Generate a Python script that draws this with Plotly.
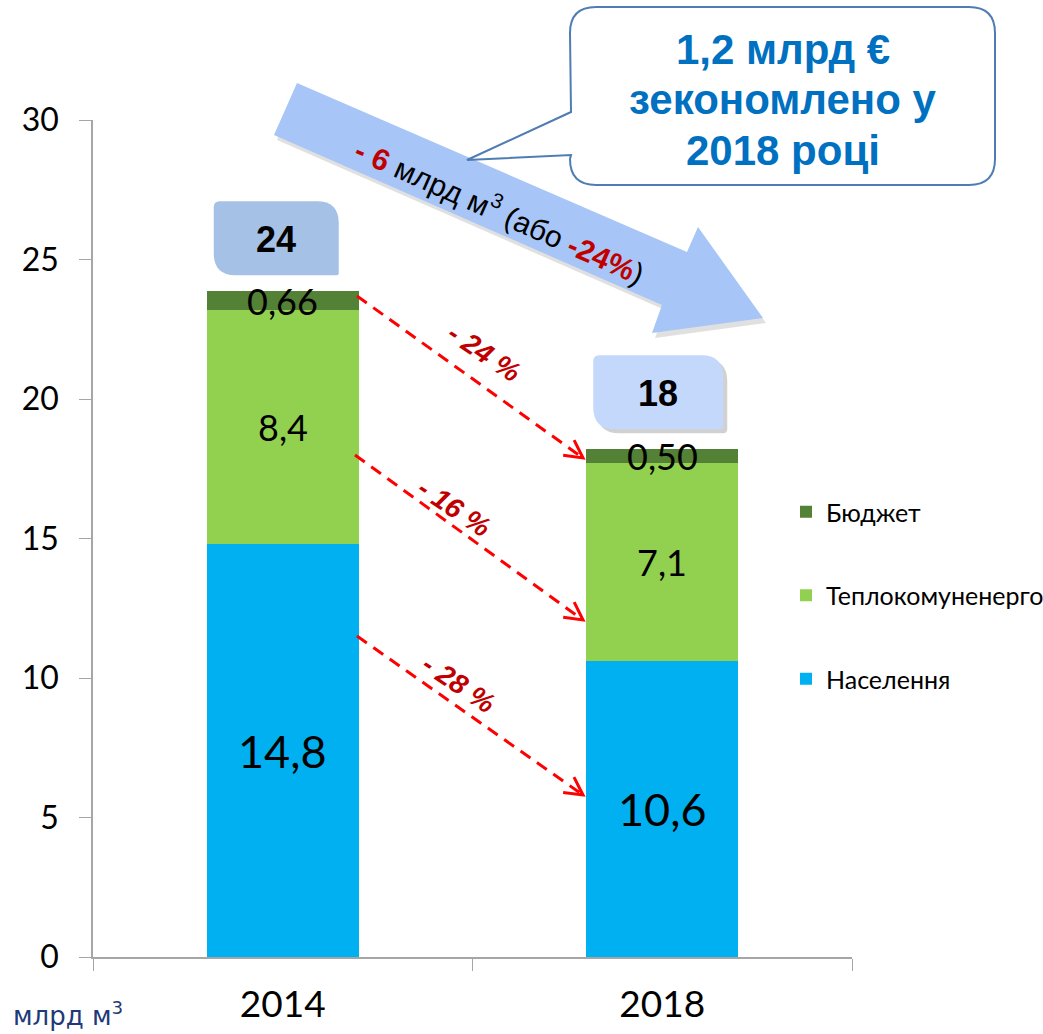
"""
Gas consumption 2014 vs 2018 - stacked bars with callouts.
"""

import math
import plotly.graph_objects as go

YEARS = ["2014", "2018"]
SERIES = ["Населення", "Теплокомуненерго", "Бюджет"]
POPULATION = [14.8, 10.6]
HEAT = [8.4, 7.1]
BUDGET = [0.66, 0.50]
DECIMALS = [1, 1, 2]

COLORS = {
    "Населення": "#00B0F0",
    "Теплокомуненерго": "#92D050",
    "Бюджет": "#538135",
}
LABEL_SIZE = [45, 36, 36]

# figure / plot area in pixels
W, H = 1043, 1034
L, R, T, B = 93, 852, 120, 957
YMAX = 30


def px(x, y):
    """pixel -> paper coords"""
    return (x - L) / (R - L), (B - y) / (B - T)


def y2px(v):
    return B - v * (B - T) / YMAX


def cx(i):
    return L + (i + 0.5) * (R - L) / len(YEARS)


def path(points, close=True):
    s = ""
    for cmd, pts in points:
        s += cmd + " ".join(f"{px(*p)[0]:.5f},{px(*p)[1]:.5f}" for p in pts) + " "
    return s + ("Z" if close else "")


def rrect(x0, y0, x1, y1, rtl, rtr, rbr, rbl):
    return path([
        ("M", [(x0 + rtl, y0)]), ("L", [(x1 - rtr, y0)]),
        ("Q", [(x1, y0), (x1, y0 + rtr)]), ("L", [(x1, y1 - rbr)]),
        ("Q", [(x1, y1), (x1 - rbr, y1)]), ("L", [(x0 + rbl, y1)]),
        ("Q", [(x0, y1), (x0, y1 - rbl)]), ("L", [(x0, y0 + rtl)]),
        ("Q", [(x0, y0), (x0 + rtl, y0)]),
    ])


def fmt(v, d):
    return f"{v:.{d}f}".replace(".", ",")


def note(x, y, text, size, color, family, angle=0):
    ax, ay = px(x, y)
    return dict(x=ax, y=ay, xref="paper", yref="paper", text=text, showarrow=False,
                xanchor="center", yanchor="middle", textangle=angle,
                font=dict(size=size, color=color, family=family))


fig = go.Figure()
values = [POPULATION, HEAT, BUDGET]
for rank, (name, vals) in enumerate(zip(SERIES, values)):
    fig.add_trace(go.Bar(
        x=YEARS, y=vals, name=name, legendgroup=name, legendrank=10 - rank,
        marker=dict(color=COLORS[name], line=dict(width=0)),
        width=0.4, hoverinfo="skip",
    ))

shapes = []
annotations = []

# segment labels
for i in range(len(YEARS)):
    base = 0
    for k, vals in enumerate(values):
        annotations.append(dict(
            x=i, y=base + vals[i] / 2, xref="x", yref="y",
            xanchor="center", yanchor="middle",
            text=fmt(vals[i], DECIMALS[k]), showarrow=False,
            font=dict(size=LABEL_SIZE[k], color="black", family="Lato"),
        ))
        base += vals[i]

# total boxes
box_fill = ["#A6C1E6", "#C4D8FB"]
for i in range(len(YEARS)):
    total = sum(v[i] for v in values)
    yb = y2px(total) - 16 - 4 * i
    x0, x1 = cx(i) - 69, cx(i) + 56 + 5 * i
    if i == 1:
        shapes.append(dict(type="path", xref="paper", yref="paper",
                           path=rrect(x0 + 4, yb - 70, x1 + 4, yb + 4, 6, 22, 4, 22),
                           fillcolor="rgba(0,0,0,0.18)", line=dict(width=0)))
    shapes.append(dict(type="path", xref="paper", yref="paper",
                       path=rrect(x0, yb - 74, x1, yb, 6, 22, 2, 22),
                       fillcolor=box_fill[i], line=dict(width=0)))
    annotations.append(note((x0 + x1) / 2, yb - 36, f"<b>{round(total)}</b>",
                            36, "black", "Liberation Sans"))

# dashed red arrows between bars
arrows = [((357, 296), (583, 458)), ((355, 455), (583, 620)), ((357, 636), (583, 795))]
for (xa, ya), (xb, yb) in arrows:
    p0, p1 = px(xa, ya), px(xb, yb)
    shapes.append(dict(type="line", xref="paper", yref="paper",
                       x0=p0[0], y0=p0[1], x1=p1[0], y1=p1[1],
                       line=dict(color="#FF0000", width=3, dash="12px,8px")))
    dx, dy = xb - xa, yb - ya
    n = math.hypot(dx, dy)
    ux, uy = dx / n, dy / n
    arm = 20
    c, s = math.cos(math.radians(28)), math.sin(math.radians(28))
    h1 = (xb - arm * (ux * c - uy * s), yb - arm * (uy * c + ux * s))
    h2 = (xb - arm * (ux * c + uy * s), yb - arm * (uy * c - ux * s))
    shapes.append(dict(type="path", xref="paper", yref="paper",
                       path=path([("M", [h1]), ("L", [(xb, yb)]), ("L", [h2])], close=False),
                       line=dict(color="#FF0000", width=3)))

pct = [("- 24 %", 484, 352), ("- 16 %", 454, 507), ("- 28 %", 458, 684)]
for txt, x, y in pct:
    annotations.append(note(x, y, f"<b><i>{txt}</i></b>", 28, "#C00000",
                            "Liberation Sans", angle=34))

# big block arrow
arrow_pts = [(297, 83), (687, 252), (698, 227), (763, 318), (652, 333), (662, 305), (274, 135)]
shadow = [(x + 3, y + 5) for x, y in arrow_pts]
shapes.append(dict(type="path", xref="paper", yref="paper",
                   path=path([("M", [shadow[0]])] + [("L", [p]) for p in shadow[1:]]),
                   fillcolor="rgba(0,0,0,0.12)", line=dict(width=0)))
shapes.append(dict(type="path", xref="paper", yref="paper",
                   path=path([("M", [arrow_pts[0]])] + [("L", [p]) for p in arrow_pts[1:]]),
                   fillcolor="#A7C5F7", line=dict(width=0)))
annotations.append(note(
    500, 210,
    ("<b><span style='color:#C00000'>- 6</span></b> млрд м<sup>3</sup> (або "
     "<b><span style='color:#C00000'>-24%</span></b>)"),
    30, "black", "Liberation Sans", angle=24,
))

# callout box
x0, y0, x1, y1, r = 570, 7, 995, 185, 26
callout = path([
    ("M", [(x0 + r, y0)]), ("L", [(x1 - r, y0)]),
    ("Q", [(x1, y0), (x1, y0 + r)]), ("L", [(x1, y1 - r)]),
    ("Q", [(x1, y1), (x1 - r, y1)]), ("L", [(x0 + r, y1)]),
    ("Q", [(x0, y1), (x0, y1 - r)]), ("L", [(x0 + 1, 155)]),
    ("L", [(467, 160)]), ("L", [(x0 + 1, 112)]), ("L", [(x0, y0 + r)]),
    ("Q", [(x0, y0), (x0 + r, y0)]),
])
shapes.append(dict(type="path", xref="paper", yref="paper", path=callout,
                   fillcolor="white", line=dict(color="#4F7DB3", width=2)))
for line_text, ly_ in [("1,2 млрд €", 50), ("зекономлено у", 100), ("2018 році", 150)]:
    annotations.append(note(783, ly_, f"<b>{line_text}</b>", 42, "#0070C0",
                            "Liberation Sans"))

# unit label
annotations.append(note(68, 1014, "млрд м<sup>3</sup>", 26, "#1F3A78", "DejaVu Sans"))

lx, ly = px(786, 489)
fig.update_layout(
    width=W, height=H,
    margin=dict(l=L, r=W - R, t=T, b=H - B, autoexpand=False),
    paper_bgcolor="white", plot_bgcolor="white",
    barmode="stack",
    font=dict(family="Lato", color="black"),
    xaxis=dict(
        type="category", tickson="boundaries", ticks="outside", ticklen=12,
        tickcolor="#A6A6A6", showline=True, linecolor="#A6A6A6", linewidth=1.5,
        showgrid=False, tickfont=dict(size=37, color="black", family="Lato"),
        ticklabelstandoff=14, range=[-0.5, 1.5],
    ),
    yaxis=dict(
        range=[0, YMAX], dtick=5, ticks="outside", ticklen=12, tickcolor="#A6A6A6",
        showline=True, linecolor="#A6A6A6", linewidth=1.5, showgrid=False,
        zeroline=False, tickfont=dict(size=32, color="black", family="Lato"),
        ticklabelstandoff=14,
    ),
    legend=dict(
        x=lx, y=ly, xanchor="left", yanchor="top", traceorder="grouped",
        tracegroupgap=48, font=dict(size=25, family="Lato", color="black"),
        bgcolor="rgba(0,0,0,0)", itemwidth=30,
    ),
    shapes=shapes, annotations=annotations,
)

fig.write_html("out.html", config={"displayModeBar": False},
               post_script="document.body.style.margin='0px';")
